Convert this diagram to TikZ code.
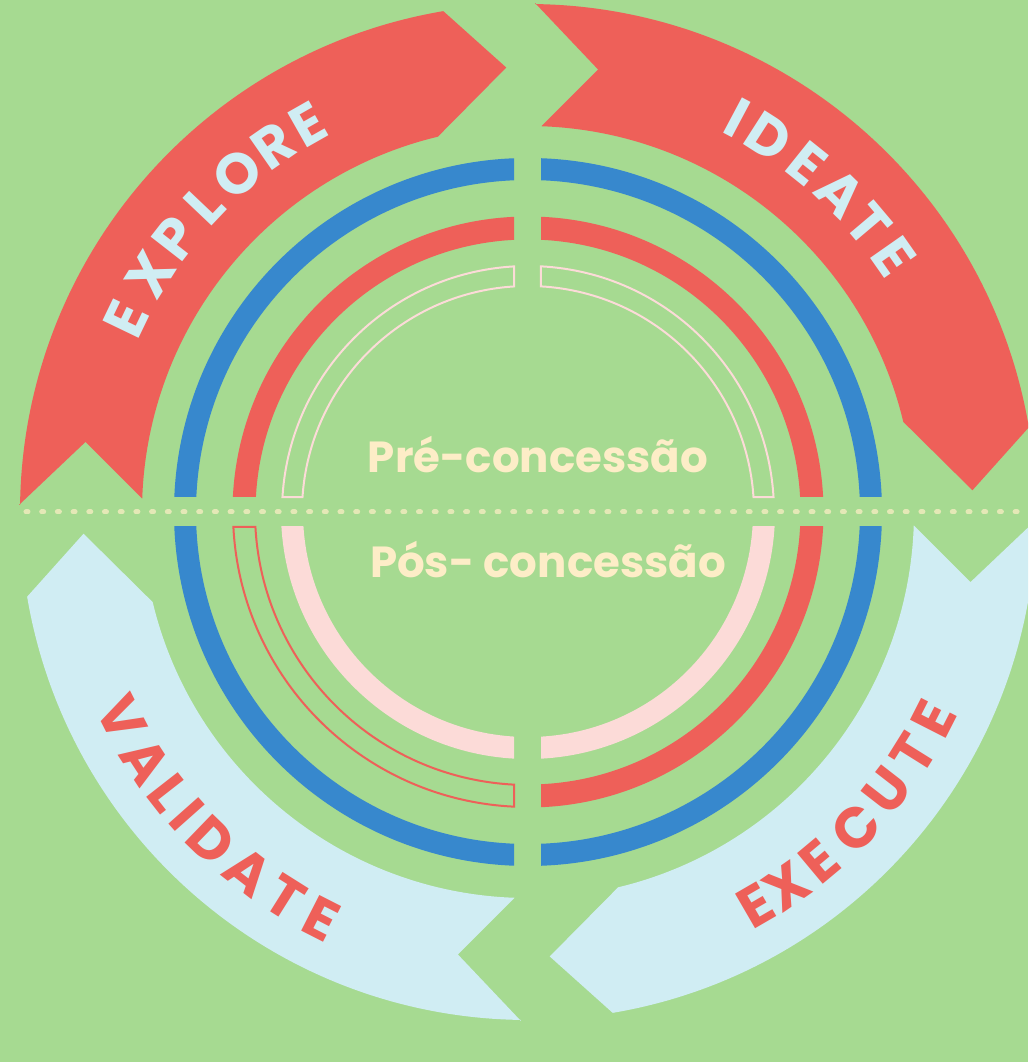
\documentclass[tikz,border=0pt]{standalone}
\usepackage{fontspec}
\setmainfont{Poppins}

\definecolor{bggreen}{RGB}{166,218,145}
\definecolor{bandred}{RGB}{238,96,89}
\definecolor{ringblue}{RGB}{55,136,205}
\definecolor{paleblue}{RGB}{208,237,243}
\definecolor{palepink}{RGB}{252,219,216}
\definecolor{cream}{RGB}{253,237,199}
\definecolor{dotcream}{RGB}{228,232,182}

\begin{document}
\begin{tikzpicture}[x=1pt,y=1pt,
	bandtext/.style={font=\fontsize{57}{57}\selectfont\bfseries, inner sep=0pt},
	phasetext/.style={font=\fontsize{43.5}{43.5}\selectfont\bfseries, text=cream, anchor=base, inner sep=0pt}]
		\useasboundingbox (-528,-550) rectangle (500,512);
		\clip (-528,-550) rectangle (500,512);
		\fill[bggreen] (-528,-550) rectangle (500,512);
		
		% outer bands
		\fill[bandred] (179.2:509)--(171:448)--(178:386) arc[start angle=178, end angle=103.5, radius=386]--(92.8:445)--(99.6:508) arc[start angle=99.6, end angle=179.2, radius=508]--cycle;
		\fill[bandred] (89.2:509)--(81:448)--(88:386) arc[start angle=88, end angle=13.5, radius=386]--(2.8:445)--(9.6:508) arc[start angle=9.6, end angle=89.2, radius=508]--cycle;
		\fill[paleblue] (-0.8:509)--(-9:448)--(-2:386) arc[start angle=-2, end angle=-76.5, radius=386]--(-87.2:445)--(-80.4:508) arc[start angle=-80.4, end angle=-0.8, radius=508]--cycle;
		\fill[paleblue] (269.2:509)--(261:448)--(268:386) arc[start angle=268, end angle=193.5, radius=386]--(182.8:445)--(189.6:508) arc[start angle=189.6, end angle=269.2, radius=508]--cycle;
		
		% rings, top left
		\begin{scope}
		\clip (-14,15) rectangle (-600,600);
		\draw[ringblue, line width=22] (0,0) circle (343);
		\draw[bandred, line width=23] (0,0) circle (284);
		\end{scope}
		\draw[palepink, line width=2] ({90+asin(14/246)}:246) arc[start angle={90+asin(14/246)}, end angle={180-asin(15/246)}, radius=246]--({180-asin(15/226)}:226) arc[start angle={180-asin(15/226)}, end angle={90+asin(14/226)}, radius=226]--cycle;
		
		% rings, top right
		\begin{scope}
		\clip (13,15) rectangle (600,600);
		\draw[ringblue, line width=22] (0,0) circle (343);
		\draw[bandred, line width=23] (0,0) circle (284);
		\end{scope}
		\draw[palepink, line width=2] ({asin(15/246)}:246) arc[start angle={asin(15/246)}, end angle={90-asin(13/246)}, radius=246]--({90-asin(13/226)}:226) arc[start angle={90-asin(13/226)}, end angle={asin(15/226)}, radius=226]--cycle;
		
		% rings, bottom left
		\begin{scope}
		\clip (-14,-15) rectangle (-600,-600);
		\draw[ringblue, line width=22] (0,0) circle (343);
		\draw[palepink, line width=22] (0,0) circle (236);
		\end{scope}
		\draw[bandred, line width=2] ({180+asin(15/295)}:295) arc[start angle={180+asin(15/295)}, end angle={270-asin(14/295)}, radius=295]--({270-asin(14/273)}:273) arc[start angle={270-asin(14/273)}, end angle={180+asin(15/273)}, radius=273]--cycle;
		
		% rings, bottom right
		\begin{scope}
		\clip (13,-15) rectangle (600,-600);
		\draw[ringblue, line width=22] (0,0) circle (343);
		\draw[bandred, line width=23] (0,0) circle (284);
		\draw[palepink, line width=22] (0,0) circle (236);
		\end{scope}
		
		% dotted divider
		\draw[dotcream, line width=5, line cap=round, dash pattern=on 2 off 13.7] (-502,0)--(500,0);
		
		% phase labels
		\node[phasetext] (pre) at (10,39) {Pré-concessão};
		\node[phasetext] (pos) at (20,-66) {Pós- concessão};
		
		% band labels
		\foreach \a/\ch [count=\i] in {154.3/E,147.8/X,142.1/P,136.5/L,130.6/O,124.8/R,119.6/E}
			\node[bandtext, text=paleblue, rotate=\a-90] (explore-\i) at (\a:446) {\ch};
		\foreach \a/\ch [count=\i] in {62/I,57.3/D,51.3/E,45.6/A,40.2/T,35/E}
			\node[bandtext, text=paleblue, rotate=\a-90] (ideate-\i) at (\a:446) {\ch};
		\foreach \a/\ch [count=\i] in {-59.9/E,-55.3/X,-50.1/E,-43.9/C,-37.8/U,-32/T,-27/E}
			\node[bandtext, text=bandred, rotate=\a+90] (execute-\i) at (\a:455) {\ch};
		\foreach \a/\ch [count=\i] in {206.9/V,213.1/A,218/L,221.6/I,226/D,232.1/A,237.8/T,243/E}
			\node[bandtext, text=bandred, rotate=\a+90] (validate-\i) at (\a:456) {\ch};
\end{tikzpicture}
\end{document}
